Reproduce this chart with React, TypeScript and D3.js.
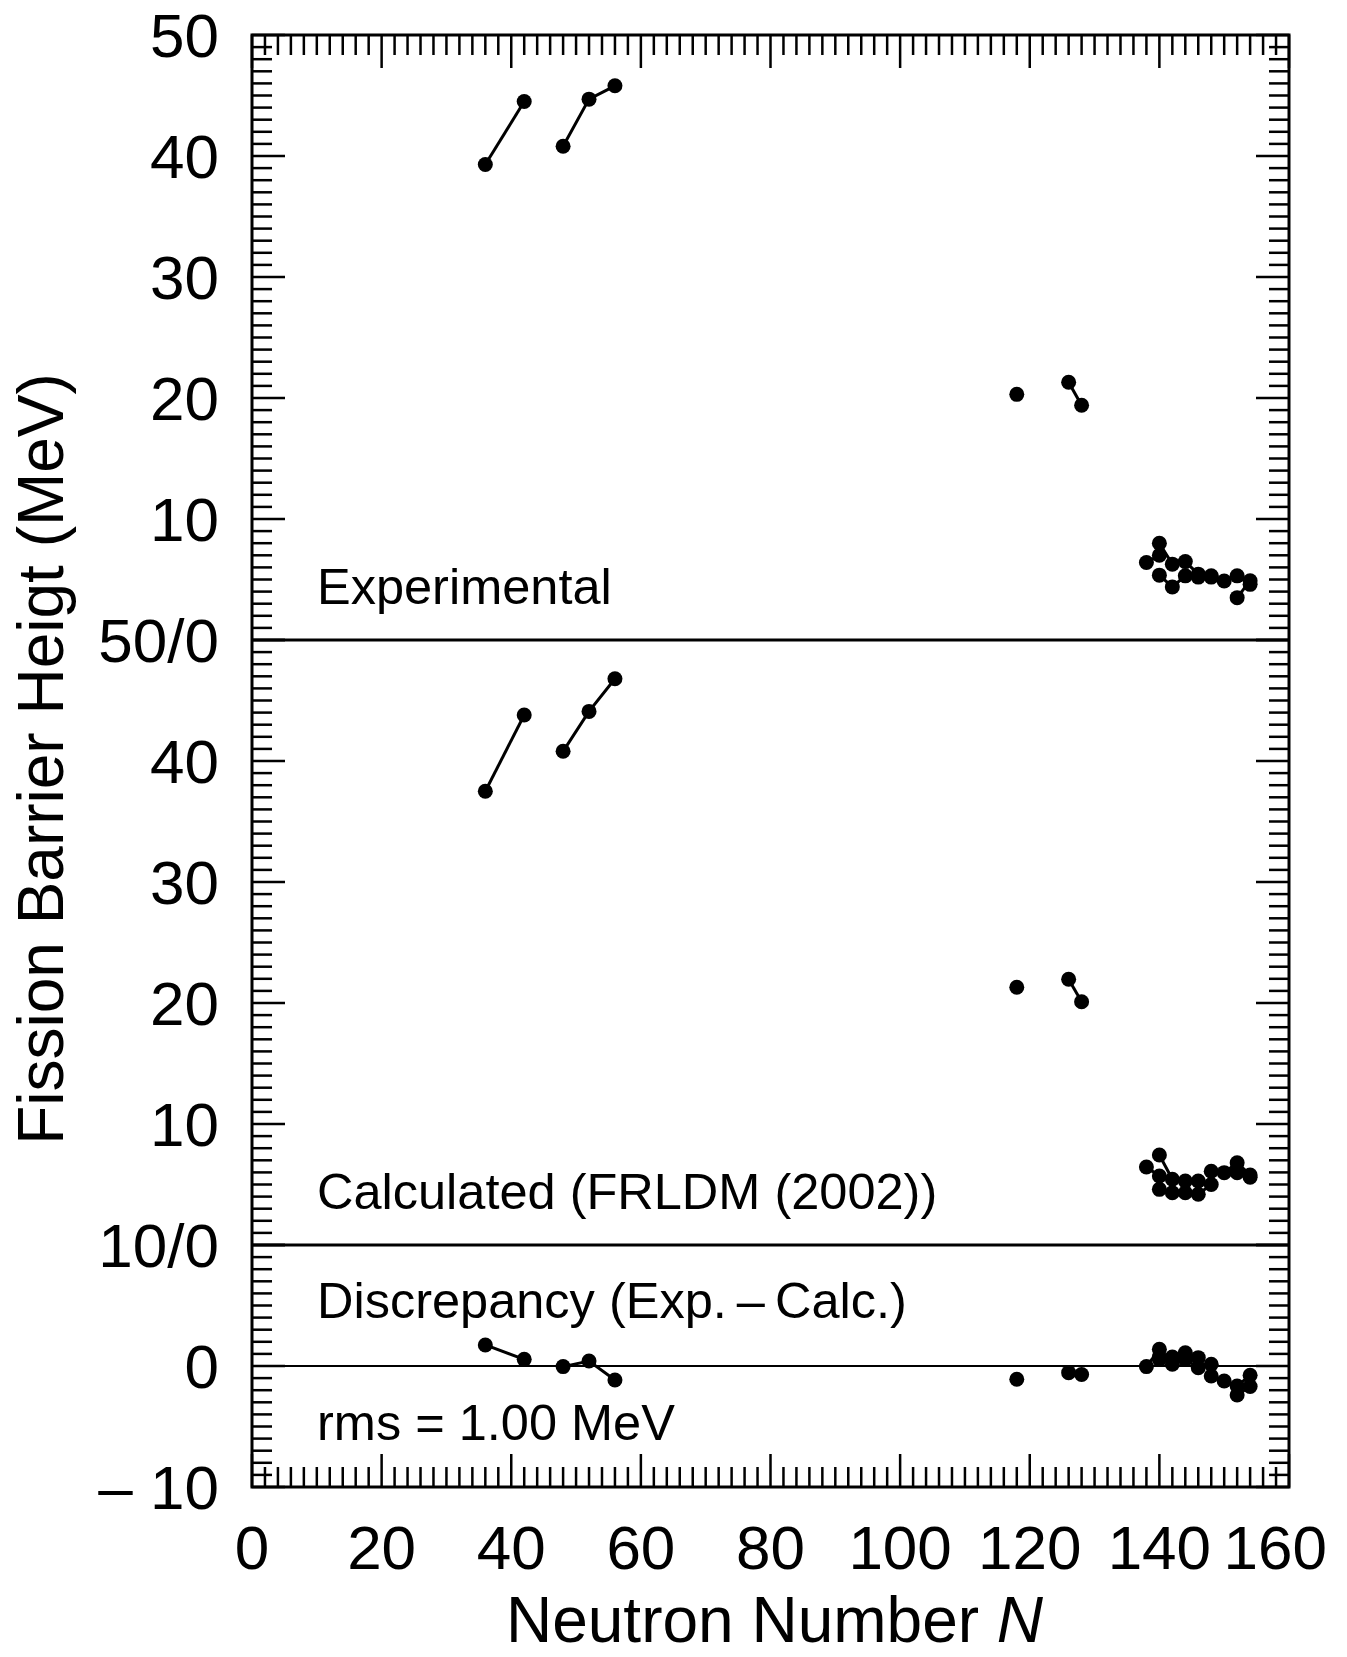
import { useEffect, useRef } from 'react'
import * as d3 from 'd3'

// isotope chains: neutron numbers, one inner array per connected chain
const chainN: number[][] = [
  [36, 42],
  [48, 52, 56],
  [118],
  [126, 128],
  [138, 140],
  [140, 142, 144, 146],
  [140, 142, 144, 146, 148],
  [148, 150, 152, 154],
  [152, 154],
]

// barrier heights (MeV)
const experimental: number[][] = [
  [39.3, 44.5],
  [40.8, 44.7, 45.8],
  [20.3],
  [21.3, 19.4],
  [6.4, 7.0],
  [8.0, 6.27, 6.48, 5.44],
  [5.36, 4.39, 5.3, 5.2, 5.3],
  [5.2, 4.88, 5.3, 4.6],
  [3.5, 4.9],
]

const calculated: number[][] = [
  [37.5, 43.8],
  [40.8, 44.1, 46.8],
  [21.3],
  [21.96, 20.1],
  [6.45, 5.7],
  [7.44, 5.43, 5.29, 5.29],
  [4.6, 4.32, 4.32, 4.19, 5.0],
  [6.1, 5.98, 6.8, 5.79],
  [5.98, 5.6],
]

const discrepancy: number[][] = [
  [1.74, 0.55],
  [-0.05, 0.41, -1.16],
  [-1.1],
  [-0.55, -0.7],
  [-0.05, 1.38],
  [0.55, 0.74, 1.1, 0.69],
  [0.76, 0.14, 0.55, -0.14, 0.14],
  [-0.83, -1.24, -1.65, -0.77],
  [-2.4, -1.7],
]

const xTicks = [0, 20, 40, 60, 80, 100, 120, 140, 160]
const topTickLabels = ['50', '40', '30', '20', '10']
const midTickLabels = ['40', '30', '20', '10']
const bottomTickLabels = ['0', '\u2013 10']
const joinLabels = ['50/0', '10/0']

const W = 1347
const H = 1657
const FONT = '"Liberation Sans", Arial, Helvetica, sans-serif'

export default function App() {
  const svgRef = useRef<SVGSVGElement>(null)

  useEffect(() => {
    if (!svgRef.current) return
    document.body.style.margin = '0'
    const svg = d3.select(svgRef.current)
    svg.selectAll('*').remove()

    const x0 = 252, x1 = 1289, yTop = 35, yBot = 1487
    const x = d3.scaleLinear().domain([0, 160]).range([x0, x1])
    // composite vertical scale: 0..120 stacks the three panels
    const yAll = d3.scaleLinear().domain([0, 120]).range([yBot, yTop])

    const panels = [
      { offset: 70, lo: 0, hi: 50, values: experimental, label: 'Experimental' },
      { offset: 20, lo: 0, hi: 50, values: calculated, label: 'Calculated (FRLDM (2002))' },
      { offset: 10, lo: -10, hi: 10, values: discrepancy, label: 'Discrepancy (Exp.\u2009\u2013\u2009Calc.)' },
    ]

    const g = svg.append('g')

    // ticks on left and right, every 1 MeV, long every 10
    panels.forEach(p => {
      d3.range(p.lo, p.hi + 1).forEach(v => {
        const yy = yAll(v + p.offset)
        const len = v % 10 === 0 ? 33 : 20
        g.append('line').attr('x1', x0).attr('x2', x0 + len).attr('y1', yy).attr('y2', yy)
          .attr('stroke', 'black').attr('stroke-width', 2.5)
        g.append('line').attr('x1', x1).attr('x2', x1 - len).attr('y1', yy).attr('y2', yy)
          .attr('stroke', 'black').attr('stroke-width', 2.5)
      })
    })

    // ticks on top and bottom, every 2, long every 20
    d3.range(0, 161, 2).forEach(v => {
      const xx = x(v)
      const len = v % 20 === 0 ? 33 : 20
      g.append('line').attr('x1', xx).attr('x2', xx).attr('y1', yTop).attr('y2', yTop + len)
        .attr('stroke', 'black').attr('stroke-width', 2.5)
      g.append('line').attr('x1', xx).attr('x2', xx).attr('y1', yBot).attr('y2', yBot - len)
        .attr('stroke', 'black').attr('stroke-width', 2.5)
    })

    // panel separators and zero line
    ;[20, 70].forEach(v => {
      g.append('line').attr('x1', x0).attr('x2', x1).attr('y1', yAll(v)).attr('y2', yAll(v))
        .attr('stroke', 'black').attr('stroke-width', 3)
    })
    g.append('line').attr('x1', x0).attr('x2', x1).attr('y1', yAll(10)).attr('y2', yAll(10))
      .attr('stroke', 'black').attr('stroke-width', 2)

    // frame
    g.append('rect').attr('x', x0).attr('y', yTop).attr('width', x1 - x0).attr('height', yBot - yTop)
      .attr('fill', 'none').attr('stroke', 'black').attr('stroke-width', 3)

    // y tick labels
    const yLabels: [string, number][] = [
      ...topTickLabels.map((t, i) => [t, 120 - i * 10] as [string, number]),
      [joinLabels[0], 70],
      ...midTickLabels.map((t, i) => [t, 60 - i * 10] as [string, number]),
      [joinLabels[1], 20],
      [bottomTickLabels[0], 10],
      [bottomTickLabels[1], 0],
    ]
    svg.append('g').selectAll('text').data(yLabels).enter().append('text')
      .attr('x', 219).attr('y', d => yAll(d[1]) + 22)
      .attr('text-anchor', 'end')
      .style('font-family', FONT).style('font-size', '62px')
      .text(d => d[0])

    // x tick labels (the last one is pulled inside the page)
    svg.append('g').selectAll('text').data(xTicks).enter().append('text')
      .attr('x', d => (d === 160 ? 1327 : x(d))).attr('y', 1569)
      .attr('text-anchor', d => (d === 160 ? 'end' : 'middle'))
      .style('font-family', FONT).style('font-size', '62px')
      .text(d => d)

    // axis titles
    const xt = svg.append('text').attr('x', (x0 + x1) / 2 + 4).attr('y', 1642)
      .attr('text-anchor', 'middle')
      .style('font-family', FONT).style('font-size', '64px')
    xt.append('tspan').text('Neutron Number ')
    xt.append('tspan').style('font-style', 'italic').text('N')

    svg.append('text')
      .attr('transform', `translate(63,${(yTop + yBot) / 2 - 2}) rotate(-90)`)
      .attr('text-anchor', 'middle')
      .style('font-family', FONT).style('font-size', '64px')
      .text('Fission Barrier Heigt (MeV)')

    // panel labels
    const labelY = [604, 1209, 1318]
    panels.forEach((p, i) => {
      svg.append('text').attr('x', 317).attr('y', labelY[i])
        .style('font-family', FONT).style('font-size', '50.5px')
        .text(p.label)
    })
    svg.append('text').attr('x', 317).attr('y', 1440)
      .style('font-family', FONT).style('font-size', '50.5px')
      .text('rms = 1.00 MeV')

    // data: chains with lines and dots
    const line = d3.line<[number, number]>().x(d => d[0]).y(d => d[1])
    panels.forEach(p => {
      const dg = svg.append('g')
      chainN.forEach((ns, ci) => {
        const pts: [number, number][] = ns.map((n, k) => [x(n), yAll(p.values[ci][k] + p.offset)])
        if (pts.length > 1) {
          dg.append('path').attr('d', line(pts)).attr('fill', 'none')
            .attr('stroke', 'black').attr('stroke-width', 3)
        }
        dg.selectAll(null).data(pts).enter().append('circle')
          .attr('cx', d => d[0]).attr('cy', d => d[1]).attr('r', 7.5)
          .attr('fill', 'black')
      })
    })
  }, [])

  return (
    <div style={{ width: W, height: H, background: 'white' }}>
      <svg ref={svgRef} width={W} height={H} style={{ display: 'block' }} />
    </div>
  )
}
